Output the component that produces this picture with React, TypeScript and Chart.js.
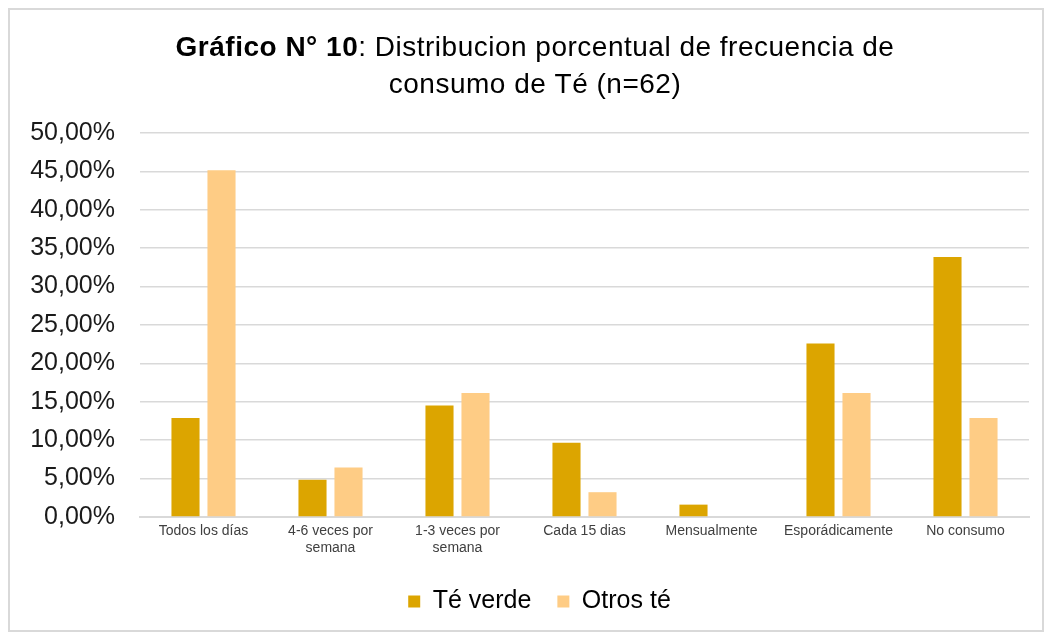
import React, { useEffect, useRef } from "react";
import { Chart, registerables } from "chart.js";

Chart.register(...registerables);

const categories: (string | string[])[] = [
  "Todos los días",
  ["4-6 veces por", "semana"],
  ["1-3 veces por", "semana"],
  "Cada 15 dias",
  "Mensualmente",
  "Esporádicamente",
  "No consumo",
];
const teVerde = [12.9, 4.84, 14.52, 9.68, 1.61, 22.58, 33.87];
const otrosTe = [45.16, 6.45, 16.13, 3.23, 0, 16.13, 12.9];
const seriesNames = ["Té verde", "Otros té"];
const titleBold = "Gráfico N° 10";
const titleRest = ": Distribucion porcentual de frecuencia de";
const titleLine2 = "consumo de Té (n=62)";

const FONT = "'Liberation Sans', Arial, sans-serif";

const titlePlugin = {
  id: "richTitle",
  afterLayout(chart: any) {
    const lg = chart.legend;
    if (lg) {
      lg.left += 20;
      lg.right += 20;
    }
  },
  afterDraw(chart: any) {
    const ctx = chart.ctx as any;
    ctx.save();
    ctx.fillStyle = "#000";
    ctx.textBaseline = "middle";
    ctx.textAlign = "left";
    ctx.letterSpacing = "0.5px";
    const cx = 525;
    ctx.font = `bold 28px ${FONT}`;
    const wb = ctx.measureText(titleBold).width;
    ctx.font = `28px ${FONT}`;
    const wr = ctx.measureText(titleRest).width;
    const x = cx - (wb + wr) / 2;
    ctx.font = `bold 28px ${FONT}`;
    ctx.fillText(titleBold, x, 38);
    ctx.font = `28px ${FONT}`;
    ctx.fillText(titleRest, x + wb, 38);
    ctx.textAlign = "center";
    ctx.fillText(titleLine2, cx, 75);
    ctx.restore();
  },
};

export default function App() {
  const ref = useRef<HTMLCanvasElement>(null);
  useEffect(() => {
    if (!ref.current) return;
    const chart = new Chart(ref.current, {
      type: "bar",
      data: {
        labels: categories,
        datasets: [
          {
            label: seriesNames[0],
            data: teVerde,
            backgroundColor: "#DCA500",
            borderWidth: 0,
            barPercentage: 0.78,
            categoryPercentage: 0.567,
          },
          {
            label: seriesNames[1],
            data: otrosTe,
            backgroundColor: "#FECC85",
            borderWidth: 0,
            barPercentage: 0.78,
            categoryPercentage: 0.567,
          },
        ],
      },
      options: {
        animation: false,
        responsive: false,
        maintainAspectRatio: false,
        layout: { padding: { top: 123, right: 13, left: 0, bottom: 6 } },
        plugins: {
          title: { display: false },
          tooltip: { enabled: false },
          legend: {
            position: "bottom",
            labels: {
              boxWidth: 12,
              boxHeight: 12,
              padding: 26,
              color: "#000",
              font: { family: FONT, size: 25 },
            },
          },
        },
        scales: {
          x: {
            grid: { display: false, drawTicks: false },
            border: { display: true, color: "#D9D9D9", width: 2 },
            ticks: {
              color: "#404040",
              padding: 6,
              maxRotation: 0,
              autoSkip: false,
              font: { family: FONT, size: 14 },
            },
            afterFit(scale: any) {
              scale.height = 46;
            },
          },
          y: {
            min: 0,
            max: 50,
            grid: { color: "#D9D9D9", lineWidth: 1.5, drawTicks: false },
            border: { display: false },
            ticks: {
              stepSize: 5,
              padding: 25,
              color: "#1a1a1a",
              font: { family: FONT, size: 25 },
              callback: (v: any) => Number(v).toFixed(2).replace(".", ",") + "%",
            },
            afterFit(scale: any) {
              scale.width = 130;
            },
          },
        },
      },
      plugins: [titlePlugin],
    });
    return () => chart.destroy();
  }, []);
  return (
    <div
      style={{
        width: 1036,
        height: 624,
        border: "2px solid #D9D9D9",
        boxSizing: "border-box",
        background: "#fff",
      }}
    >
      <canvas ref={ref} width={1032} height={620} style={{ display: "block" }} />
    </div>
  );
}
